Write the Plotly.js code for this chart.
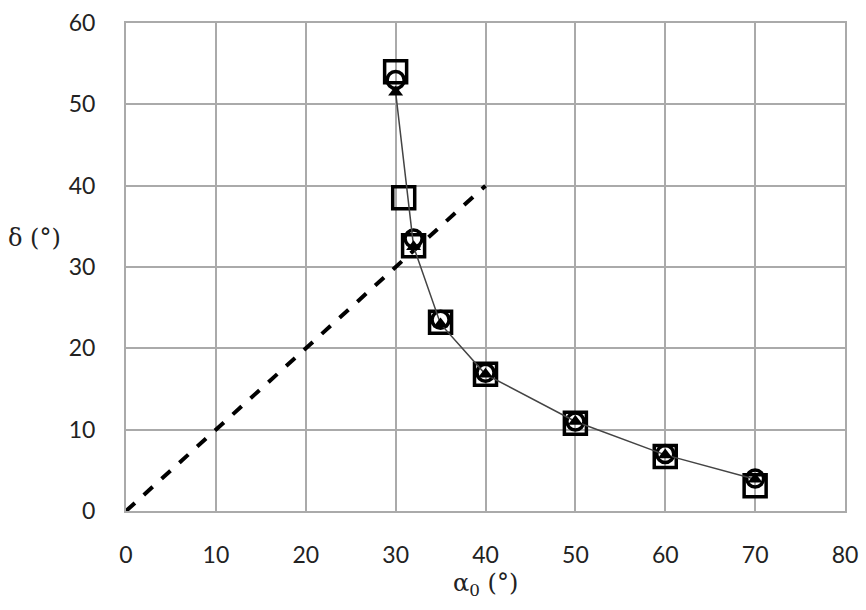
<!DOCTYPE html>
<html>
<head>
<meta charset="utf-8">
<script src="https://cdn.plot.ly/plotly-3.0.1.min.js"></script>
<style>
  body { margin: 0; background: #fff; }
  #chart { width: 866px; height: 610px; }
</style>
</head>
<body>
<div id="chart"></div>
<script>
// values
const squareX = [30, 30.9, 32, 35, 40, 50, 60, 70];
const squareY = [54.0, 38.5, 32.6, 23.2, 16.8, 10.8, 6.7, 3.1];

const circleX = [30, 32, 35, 40, 50, 60, 70];
const circleY = [53.0, 33.5, 23.5, 17.0, 11.0, 7.0, 4.0];

const triangleX = [30, 32, 35, 40, 50, 60, 70];
const triangleY = [51.5, 32.5, 23.0, 16.8, 11.0, 6.9, 3.9];

const dashX = [0, 40];
const dashY = [0, 40];

const xTicks = [0, 10, 20, 30, 40, 50, 60, 70, 80];
const yTicks = [0, 10, 20, 30, 40, 50, 60];

const tickFont = { family: "Lato, 'Open Sans', sans-serif", size: 23, color: "#222" };
const titleFont = { family: "'DejaVu Serif', 'Liberation Serif', serif", size: 24, color: "#222" };

const data = [
  {
    x: dashX,
    y: dashY,
    mode: "lines",
    line: { color: "#000", width: 4, dash: "dash" },
    hoverinfo: "skip"
  },
  {
    x: squareX,
    y: squareY,
    mode: "markers",
    marker: {
      symbol: "square-open",
      size: 22,
      color: "#000",
      line: { width: 3.5, color: "#000" }
    }
  },
  {
    x: circleX,
    y: circleY,
    mode: "markers",
    marker: {
      symbol: "circle-open",
      size: 17,
      color: "#000",
      line: { width: 3.5, color: "#000" }
    }
  },
  {
    x: triangleX,
    y: triangleY,
    mode: "lines+markers",
    line: { color: "#444", width: 1.5 },
    marker: { symbol: "triangle-up", size: 13, color: "#000" }
  }
];

const layout = {
  width: 866,
  height: 610,
  showlegend: false,
  paper_bgcolor: "#fff",
  plot_bgcolor: "#fff",
  margin: { l: 126, r: 21, t: 23, b: 99 },
  xaxis: {
    range: [0, 80],
    tickvals: xTicks,
    ticktext: xTicks.map(String),
    showgrid: true,
    gridcolor: "#aaa",
    gridwidth: 2,
    zeroline: false,
    showline: true,
    linecolor: "#aaa",
    linewidth: 2,
    mirror: true,
    ticks: "",
    ticklabelstandoff: 22,
    tickfont: tickFont
  },
  yaxis: {
    range: [0, 60],
    tickvals: yTicks,
    ticktext: yTicks.map(String),
    showgrid: true,
    gridcolor: "#aaa",
    gridwidth: 2,
    zeroline: false,
    showline: true,
    linecolor: "#aaa",
    linewidth: 2,
    mirror: true,
    ticks: "",
    ticklabelstandoff: 24,
    tickfont: tickFont
  },
  annotations: [
    {
      text: "δ (°)",
      xref: "paper", yref: "paper",
      x: -0.127, y: 0.56,
      xanchor: "center", yanchor: "middle",
      showarrow: false,
      font: titleFont
    },
    {
      text: "α<sub>0</sub> (°)",
      xref: "paper", yref: "paper",
      x: 0.5, y: -0.15,
      xanchor: "center", yanchor: "middle",
      showarrow: false,
      font: titleFont
    }
  ]
};

Plotly.newPlot("chart", data, layout, { staticPlot: true });
</script>
</body>
</html>
